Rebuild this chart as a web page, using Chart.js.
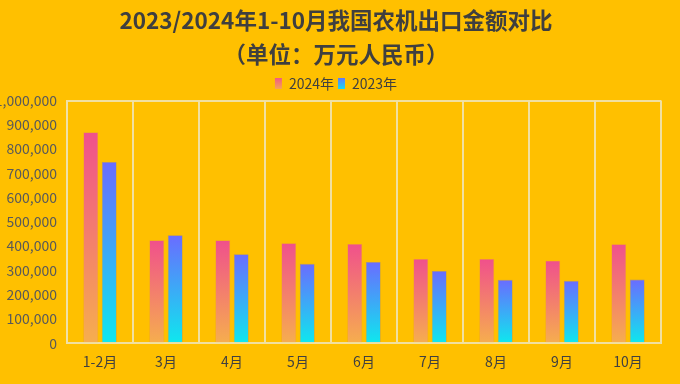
<!DOCTYPE html>
<html><head><meta charset="utf-8">
<script src="https://cdn.jsdelivr.net/npm/chart.js@4"></script>
<style>
html,body{margin:0;padding:0;background:#FFC000;overflow:hidden;}
#wrap{position:absolute;left:-15px;top:0;width:702px;height:384px;}
</style></head><body>
<div id="wrap"><canvas id="c"></canvas></div>
<script>
const categories = ['1-2月','3月','4月','5月','6月','7月','8月','9月','10月'];
const values2024 = [869000, 424000, 424000, 412000, 409000, 347000, 347000, 340000, 408000];
const values2023 = [747000, 445000, 367000, 327000, 335000, 298000, 261000, 257000, 262000];
const seriesNames = ['2024年','2023年'];
const titleLines = ['2023/2024年1-10月我国农机出口金额对比','（单位：万元人民币）'];

const FONT = "'Noto Sans CJK SC','Noto Sans',sans-serif";
const COLORS = [['#F0508C','#F6AE4E'], ['#6A6CFF','#0EE8EE']];
const grad = (top, bottom) => (ctx) => {
  const chart = ctx.chart;
  if (ctx.type !== 'data' || !chart.chartArea) return top;
  const y = chart.scales.y;
  const y0 = y.getPixelForValue(0);
  const y1 = y.getPixelForValue(ctx.raw);
  if (!isFinite(y0) || !isFinite(y1) || y0 === y1) return top;
  const g = chart.ctx.createLinearGradient(0, y1, 0, y0);
  g.addColorStop(0, top);
  g.addColorStop(1, bottom);
  return g;
};
const gridCol = 'rgba(240,226,170,0.95)';

const legendGradient = {
  id: 'legendGradient',
  beforeDraw(chart) {
    const lg = chart.legend;
    if (!lg || !lg.legendItems || !lg.legendHitBoxes) return;
    lg.legendItems.forEach((it, i) => {
      const hb = lg.legendHitBoxes[i];
      if (!hb) return;
      const g = chart.ctx.createLinearGradient(0, hb.top, 0, hb.top + hb.height);
      g.addColorStop(0, COLORS[i][0]);
      g.addColorStop(1, COLORS[i][1]);
      it.fillStyle = g;
    });
  }
};

new Chart(document.getElementById('c'), {
  type: 'bar',
  data: {
    labels: categories,
    datasets: [
      {label: seriesNames[0], data: values2024, backgroundColor: grad(COLORS[0][0], COLORS[0][1]),
       borderColor: 'rgba(220,120,120,0.5)', borderWidth: 0.6, categoryPercentage: 0.56, barPercentage: 0.8},
      {label: seriesNames[1], data: values2023, backgroundColor: grad(COLORS[1][0], COLORS[1][1]),
       borderColor: 'rgba(100,110,200,0.5)', borderWidth: 0.6, categoryPercentage: 0.56, barPercentage: 0.8}
    ]
  },
  plugins: [legendGradient],
  options: {
    responsive: true, maintainAspectRatio: false, animation: false,
    layout: {padding: {left: 0, right: 0, top: 4, bottom: 4}},
    plugins: {
      title: {display: true, text: titleLines, color: '#3F3F3F',
        font: {family: FONT, size: 22.5, weight: 'bold', lineHeight: 1.5}, padding: {top: 0, bottom: 1}},
      legend: {display: true, position: 'top',
        labels: {color: '#404040', font: {family: FONT, size: 14}, boxWidth: 7, boxHeight: 11, padding: 4,
          generateLabels: (chart) => chart.data.datasets.map((d, i) => ({
            text: d.label, fillStyle: COLORS[i][0], strokeStyle: 'rgba(0,0,0,0)', lineWidth: 0,
            hidden: !chart.isDatasetVisible(i), datasetIndex: i, fontColor: '#404040'}))}},
      tooltip: {enabled: false}
    },
    scales: {
      x: {
        offset: true,
        grid: {display: true, offset: true, color: gridCol, lineWidth: 2, drawTicks: false},
        border: {display: true, color: gridCol, width: 2},
        ticks: {color: '#404040', font: {family: FONT, size: 14}, padding: 10}
      },
      y: {
        min: 0, max: 1000000,
        afterFit: (s) => { s.width = 82; },
        ticks: {stepSize: 100000, color: '#595959', font: {family: FONT, size: 14}, padding: 10,
          callback: (v) => v.toLocaleString('en-US')},
        grid: {display: true, drawTicks: false, lineWidth: 2,
          color: (c) => (c.tick && c.tick.value === 1000000) ? gridCol : 'rgba(0,0,0,0)'},
        border: {display: true, color: gridCol, width: 2}
      },
      yRight: {
        position: 'right', display: true, min: 0, max: 1,
        afterFit: (s) => { s.width = 26; },
        ticks: {display: false}, grid: {display: false}, border: {display: false}
      }
    }
  }
});
</script></body></html>
